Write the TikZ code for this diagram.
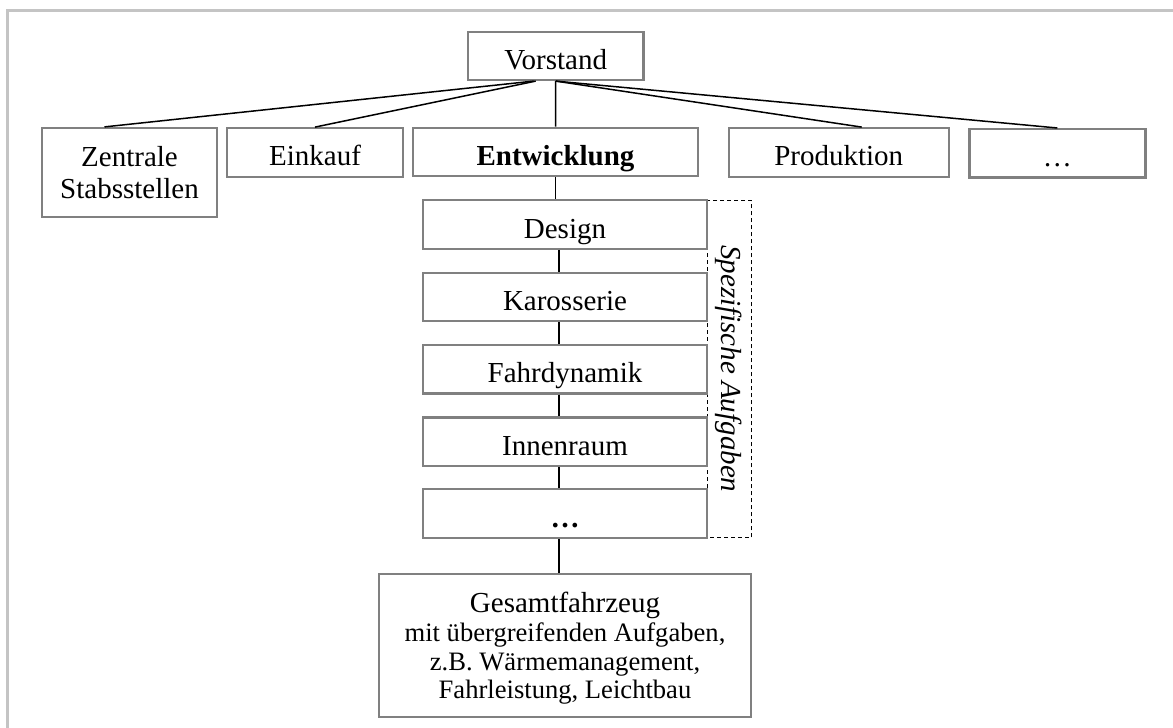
\documentclass[tikz,border=0pt]{standalone}
\usepackage{fontspec}
\setmainfont{Liberation Serif}
\definecolor{boxline}{RGB}{128,128,128}
\definecolor{framecol}{RGB}{196,196,196}

\begin{document}
\begin{tikzpicture}[
  x=0.5pt, y=-0.5pt,
  font=\fontsize{14.5}{15.8}\selectfont,
  dept/.style={                             % organisational unit: grey frame
    draw=boxline, line width=1.1pt, fill=white,
    rectangle, inner sep=0pt, align=center
  },
  oneline/.style={dept, minimum height=24.2pt,
    text height=13.5pt, text depth=0pt},
  group/.style={draw=black, line width=0.5pt, dash pattern=on 2pt off 1.5pt,
    rectangle, inner sep=0pt, rotate=-90, font=\fontsize{14.5}{15.8}\selectfont\itshape},
  link/.style={draw=black, line width=0.75pt},
]
\useasboundingbox (0,0) rectangle (1173,728);

% ---- outer frame (only top and left edge visible) ----
\draw[framecol, line width=1.5pt] (1173,10) -- (7,10) -- (7,728);

% ---- group frame behind the column ----
\node (spez) at (729,368.75) [group, minimum width=168.5pt, minimum height=22pt]
  {Spezifische Aufgaben};

% ---- Nodes ----
\node (vor) at (555.7,55.8)  [oneline, minimum width=87.75pt] {Vorstand};

\node (zen) at (129.5,172.5) [dept, minimum width=87.5pt, minimum height=44.5pt]
  {Zentrale\\Stabsstellen};
\node (ein) at (315,152.4)   [oneline, minimum width=88pt]  {Einkauf};
\node (ent) at (555.5,152)   [oneline, minimum width=142.5pt] {\textbf{Entwicklung}};
\node (pro) at (838.7,152.4) [oneline, minimum width=110pt] {Produktion};
\node (etc) at (1057.4,153.3) [oneline, minimum width=88pt] {\ldots};

\node (des) at (565,224.5)   [oneline, minimum width=142pt] {Design};
\node (kar) at (565,297)     [oneline, minimum width=142pt] {Karosserie};
\node (fah) at (565,369.3)   [oneline, minimum width=142pt] {Fahrdynamik};
\node (inn) at (565,441.7)   [oneline, minimum width=142pt] {Innenraum};
\node (dot) at (565,513.5)   [oneline, minimum width=142pt] {\textbf{\ldots}};

\node (gfz) at (565,645.5)   [dept, minimum width=186pt, minimum height=71.5pt,
  text depth=0pt, font=\fontsize{13.3}{14.35}\selectfont]
  {{\fontsize{14.5}{14.35}\selectfont Gesamtfahrzeug}\\
   mit übergreifenden Aufgaben,\\
   z.B. Wärmemanagement,\\
   Fahrleistung, Leichtbau};

% ---- Edges ----
\draw[link] ([xshift=-11pt]vor.south) -- ([xshift=-12.5pt]zen.north);
\draw[link] ([xshift=-10pt]vor.south) -- (ein.north);
\draw[link] (vor.south) -- (ent.north);
\draw[link] (vor.south) -- ([xshift=11.5pt]pro.north);
\draw[link] (vor.south) -- (etc.north);

\draw[link] (ent.south) -- (ent.south |- des.north);
\foreach \p/\c in {des/kar, kar/fah, fah/inn, inn/dot, dot/gfz}
  \draw[link] ([xshift=-3pt]\p.south) -- ([xshift=-3pt]\c.north);

\end{tikzpicture}
\end{document}
